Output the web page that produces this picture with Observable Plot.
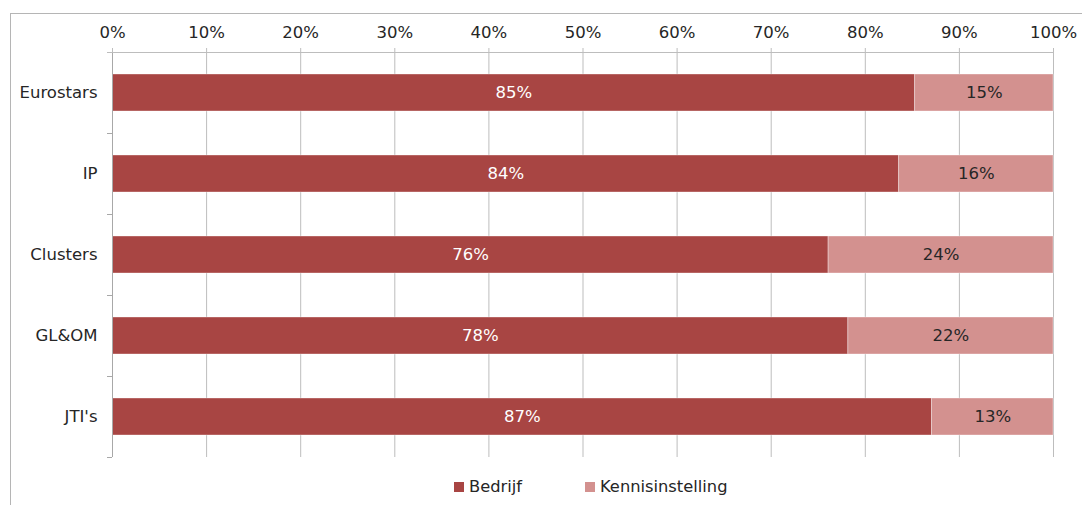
<!DOCTYPE html>
<html><head><meta charset="utf-8">
<script src="https://cdn.jsdelivr.net/npm/d3@7"></script>
<script src="https://cdn.jsdelivr.net/npm/@observablehq/plot@0.6"></script>
<style>
body{margin:0;background:#fff;font-family:"DejaVu Sans",Verdana,sans-serif;}
#wrap{position:relative;width:1082px;height:505px;overflow:hidden;background:#fff;}
#border{position:absolute;left:10px;top:13px;width:1200px;height:600px;border-left:1.5px solid #b5b5b5;border-top:1.5px solid #b5b5b5;}
#chart{position:absolute;left:0;top:0;}
.lg{position:absolute;top:477px;font-size:16.3px;color:#262626;display:flex;align-items:center;}
.sw{width:10px;height:10px;margin-right:5px;display:inline-block;}
</style>
</head><body>
<div id="wrap"><div id="border"></div><div id="chart"></div>
<div class="lg" id="lg0" style="left:454px"></div>
<div class="lg" id="lg1" style="left:585px"></div>
</div>
<script>
const categories = ["Eurostars", "IP", "Clusters", "GL&OM", "JTI's"];
const series = ["Bedrijf", "Kennisinstelling"];
const bedrijf = [85.3, 83.6, 76.1, 78.2, 87.1];
const kennisinstelling = [14.7, 16.4, 23.9, 21.8, 12.9];
const tickValues = [0, 10, 20, 30, 40, 50, 60, 70, 80, 90, 100];
const colors = ["#A84543", "#D3918F"];

const rows = [];
categories.forEach((c, i) => {
  rows.push({category: c, series: series[0], value: bedrijf[i]});
  rows.push({category: c, series: series[1], value: kennisinstelling[i]});
});
const fmt = v => d3.format(".0f")(v) + "%";
const FS = 16.5;

const plot = Plot.plot({
  width: 1082, height: 470,
  marginLeft: 112, marginRight: 29, marginTop: 52, marginBottom: 13,
  style: {fontFamily: "'DejaVu Sans', Verdana, sans-serif", fontSize: FS + "px", color: "#262626", background: "transparent"},
  x: {domain: [0, 100], axis: null, label: null},
  y: {domain: categories, padding: 0, axis: null, label: null},
  color: {domain: series, range: colors},
  marks: [
    Plot.gridX(tickValues, {stroke: "#bdbdbd", strokeOpacity: 1}),
    Plot.axisX(tickValues, {anchor: "top", label: null, tickSize: 5, tickPadding: 10, stroke: "#bdbdbd", fill: "#262626", tickFormat: d => d + "%", fontSize: FS}),
    Plot.barX(rows, Plot.stackX({x: "value", y: "category", fill: "series", z: "series", insetTop: 22, insetBottom: 22, stroke: "#fff", strokeOpacity: 0.45, strokeWidth: 0.8})),
    Plot.textX(rows, Plot.stackX({x: "value", y: "category", z: "series", text: d => d.series === series[0] ? fmt(d.value) : null, fill: "#fff", fontSize: FS})),
    Plot.textX(rows, Plot.stackX({x: "value", y: "category", z: "series", text: d => d.series === series[1] ? fmt(d.value) : null, fill: "#262626", fontSize: FS})),
    Plot.axisY({anchor: "left", label: null, tickSize: 0, tickPadding: 15, fill: "#262626", fontSize: FS}),
    Plot.ruleX([0], {stroke: "#a8a8a8"})
  ]
});
document.getElementById("chart").appendChild(plot);

// band-boundary tick marks and top axis line, positioned via the plot's scales
const ys = plot.scale("y"), xs = plot.scale("x");
const x0 = xs.apply(0), x100 = xs.apply(100);
const bounds = categories.map(c => ys.apply(c));
bounds.push(ys.apply(categories[categories.length - 1]) + ys.step);
const svg = d3.select(plot);
const g = svg.append("g").attr("stroke", "#a8a8a8").attr("shape-rendering", "crispEdges");
bounds.forEach(b => g.append("line").attr("x1", x0 - 5).attr("x2", x0).attr("y1", b).attr("y2", b));
g.append("line").attr("x1", x0 - 5).attr("x2", x100).attr("y1", bounds[0]).attr("y2", bounds[0]).attr("stroke", "#bdbdbd");

series.forEach((s, i) => {
  const el = document.getElementById("lg" + i);
  el.innerHTML = `<span class="sw" style="background:${colors[i]}"></span><span>${s}</span>`;
});
</script>
</body></html>
